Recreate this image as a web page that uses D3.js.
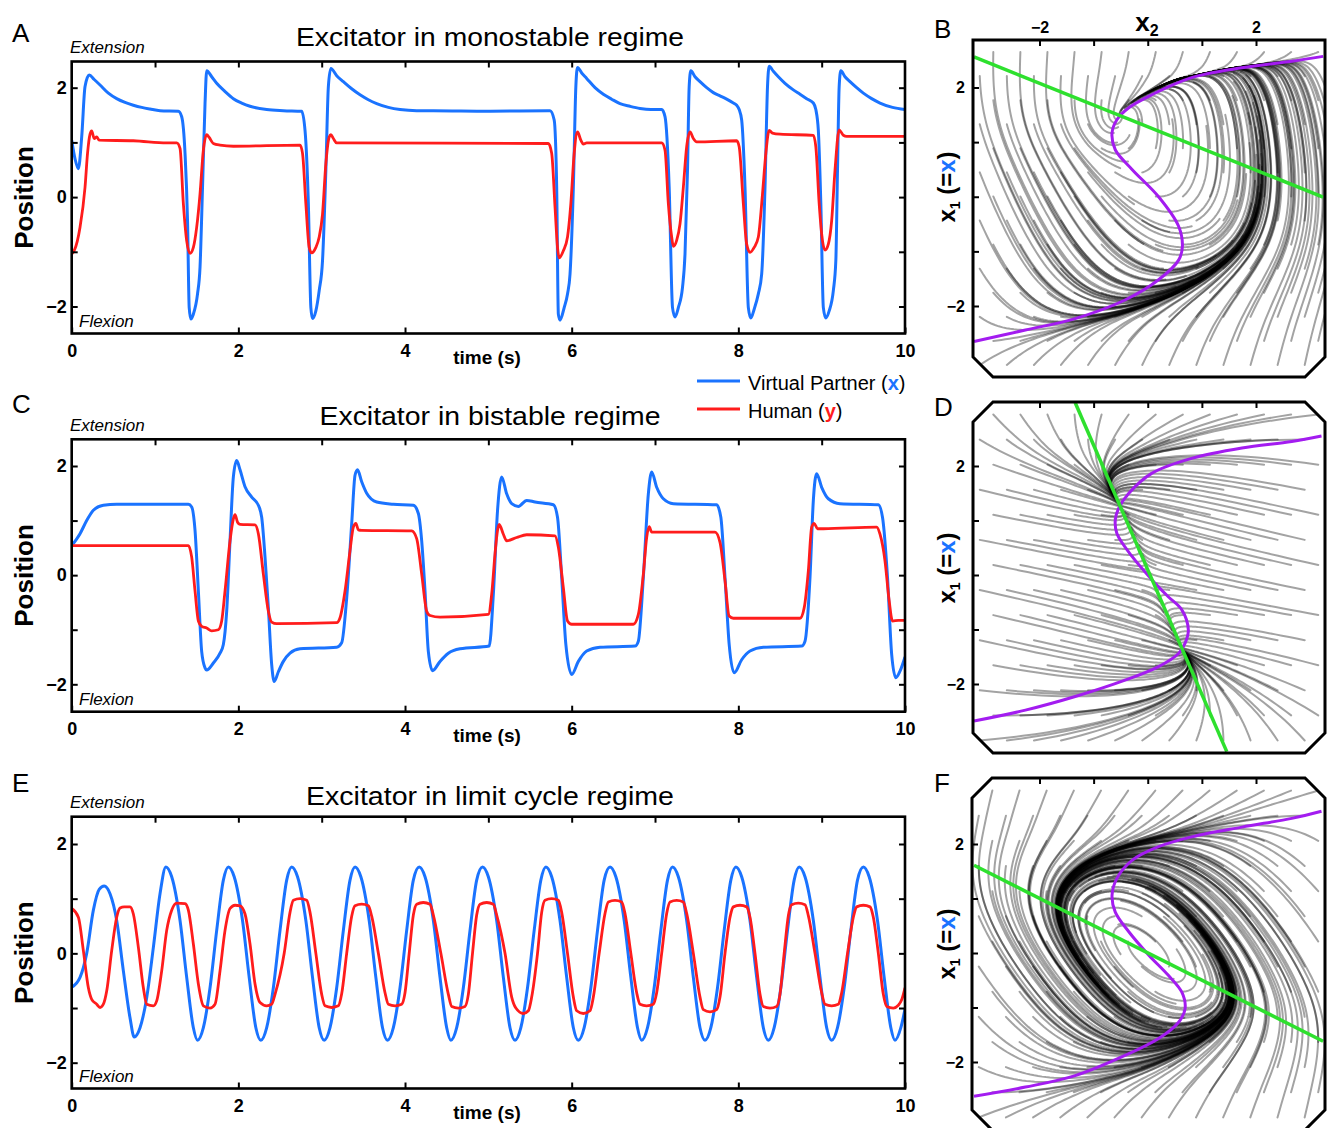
<!DOCTYPE html>
<html><head><meta charset="utf-8">
<script src="https://cdn.jsdelivr.net/npm/d3@7"></script>
<style>
body{margin:0;background:#fff}
svg text{font-family:"Liberation Sans",Arial,Helvetica,sans-serif}
</style>
</head><body>
<svg id="c" width="1328" height="1128" xmlns="http://www.w3.org/2000/svg"></svg>
<script>
// ---------------- DATA ----------------
const timeTicksLabeled = [0,2,4,6,8,10];
const timeTicksTop = [1,2,3,4,5,6,7,8,9];
const posTicks = [-2,-1,0,1,2];
const posLabels = [-2,0,2];
const legendLabels = ["Virtual Partner (", "Human ("];
const titles = ["Excitator in monostable regime","Excitator in bistable regime","Excitator in limit cycle regime"];

// Panel A : [time (s), position]
const A_blue = [[0,1.04],[0.04,0.7],[0.08,0.52],[0.12,1.1],[0.16,2.02],[0.21,2.23],[0.27,2.15],[0.34,2.05],[0.44,1.9],[0.54,1.8],[0.64,1.73],[0.74,1.68],[0.84,1.64],[0.94,1.61],[1.06,1.58],[1.28,1.57],[1.32,1.47],[1.36,0.8],[1.39,-0.43],[1.41,-2.02],[1.43,-2.23],[1.46,-2.14],[1.51,-1.77],[1.54,-1.28],[1.57,0.18],[1.6,1.71],[1.62,2.31],[1.68,2.2],[1.74,2.08],[1.84,1.93],[1.94,1.8],[2.04,1.72],[2.14,1.66],[2.34,1.6],[2.54,1.58],[2.76,1.57],[2.8,1.22],[2.84,-0.12],[2.87,-2.02],[2.89,-2.22],[2.93,-2.08],[2.97,-1.71],[3.01,-1.16],[3.05,0.49],[3.08,2.02],[3.11,2.35],[3.18,2.22],[3.26,2.11],[3.36,1.98],[3.46,1.87],[3.56,1.78],[3.66,1.71],[3.8,1.64],[3.94,1.6],[4.14,1.58],[4.34,1.58],[5.0,1.57],[5.74,1.58],[5.79,1.41],[5.82,0.18],[5.84,-2.14],[5.86,-2.25],[5.91,-2.02],[5.95,-1.77],[5.98,-1.41],[6.02,0.18],[6.05,2.02],[6.07,2.37],[6.12,2.27],[6.18,2.17],[6.28,2.0],[6.38,1.88],[6.48,1.79],[6.58,1.71],[6.7,1.66],[6.82,1.62],[6.95,1.6],[7.08,1.6],[7.12,1.47],[7.17,0.18],[7.21,-2.02],[7.24,-2.19],[7.28,-2.02],[7.33,-1.65],[7.36,-1.04],[7.39,0.49],[7.41,2.02],[7.43,2.31],[7.48,2.2],[7.54,2.11],[7.62,2.0],[7.7,1.91],[7.78,1.85],[7.86,1.79],[7.94,1.72],[7.98,1.68],[8.01,1.6],[8.04,1.41],[8.08,0.18],[8.12,-2.02],[8.15,-2.21],[8.19,-2.05],[8.24,-1.77],[8.28,-1.41],[8.32,0.18],[8.35,2.02],[8.37,2.39],[8.42,2.3],[8.48,2.2],[8.56,2.08],[8.66,1.96],[8.74,1.88],[8.82,1.8],[8.9,1.72],[8.93,1.6],[8.96,1.22],[8.99,-0.12],[9.02,-2.02],[9.05,-2.21],[9.09,-2.08],[9.14,-1.71],[9.17,-1.16],[9.19,0.49],[9.21,2.02],[9.23,2.31],[9.28,2.2],[9.34,2.11],[9.42,2.0],[9.5,1.9],[9.6,1.8],[9.7,1.72],[9.85,1.64],[10,1.6]];
const A_red = [[0,-1.04],[0.03,-0.98],[0.1,-0.55],[0.16,0.18],[0.19,0.8],[0.22,1.15],[0.24,1.21],[0.27,1.07],[0.3,1.1],[0.33,1.04],[0.74,1.03],[1.14,0.99],[1.26,0.99],[1.3,0.89],[1.34,-0.12],[1.38,-0.8],[1.42,-1.03],[1.46,-0.92],[1.5,-0.55],[1.54,0.06],[1.58,0.86],[1.62,1.14],[1.65,1.09],[1.7,0.98],[1.78,0.95],[1.94,0.93],[2.74,0.95],[2.77,0.8],[2.81,-0.12],[2.85,-0.92],[2.88,-1.02],[2.93,-0.92],[2.97,-0.73],[3.01,-0.31],[3.05,0.61],[3.09,1.1],[3.11,1.14],[3.14,1.07],[3.18,0.99],[5.72,0.98],[5.76,0.8],[5.8,-0.18],[5.83,-0.92],[5.85,-1.11],[5.9,-0.98],[5.95,-0.73],[5.99,-0.12],[6.03,0.8],[6.07,1.19],[6.11,1.04],[6.14,0.97],[6.18,0.99],[7.08,0.99],[7.12,0.86],[7.16,-0.12],[7.2,-0.73],[7.22,-0.9],[7.26,-0.79],[7.3,-0.49],[7.34,0.18],[7.38,0.92],[7.42,1.19],[7.46,1.07],[7.5,1.01],[7.98,1.03],[8.01,0.92],[8.06,-0.12],[8.1,-0.86],[8.14,-1.01],[8.19,-0.92],[8.24,-0.73],[8.29,0.06],[8.33,0.8],[8.37,1.22],[8.41,1.17],[8.5,1.15],[8.9,1.13],[8.93,0.92],[8.97,-0.12],[9.01,-0.8],[9.04,-0.97],[9.08,-0.86],[9.12,-0.43],[9.16,0.49],[9.21,1.23],[9.26,1.13],[9.3,1.11],[10,1.11]];

// Panel C
const C_blue = [[0,0.54],[0.1,0.76],[0.18,1.0],[0.26,1.19],[0.38,1.28],[0.54,1.3],[1.4,1.3],[1.44,1.25],[1.48,0.82],[1.52,-0.29],[1.56,-1.4],[1.6,-1.7],[1.62,-1.74],[1.7,-1.61],[1.78,-1.43],[1.82,-1.27],[1.86,-0.66],[1.9,0.63],[1.94,1.8],[1.98,2.1],[2.02,1.93],[2.08,1.62],[2.16,1.43],[2.24,1.28],[2.28,1.06],[2.32,0.33],[2.36,-0.6],[2.4,-1.64],[2.43,-1.95],[2.48,-1.77],[2.54,-1.58],[2.62,-1.43],[2.74,-1.35],[3.18,-1.32],[3.24,-1.24],[3.3,-0.42],[3.36,0.94],[3.4,1.83],[3.43,1.93],[3.48,1.71],[3.54,1.5],[3.66,1.34],[3.86,1.3],[4.1,1.28],[4.16,1.13],[4.2,0.63],[4.24,-0.29],[4.28,-1.4],[4.33,-1.75],[4.42,-1.58],[4.52,-1.43],[4.66,-1.35],[5.01,-1.3],[5.06,-0.35],[5.11,1.18],[5.16,1.8],[5.22,1.49],[5.28,1.31],[5.36,1.26],[5.46,1.37],[5.56,1.34],[5.78,1.29],[5.83,1.06],[5.88,-0.04],[5.93,-1.27],[6.0,-1.82],[6.08,-1.58],[6.18,-1.39],[6.34,-1.32],[6.76,-1.3],[6.8,-1.21],[6.86,-0.04],[6.92,1.49],[6.96,1.89],[7.02,1.61],[7.1,1.4],[7.22,1.31],[7.74,1.29],[7.79,1.06],[7.84,-0.04],[7.89,-1.27],[7.95,-1.79],[8.04,-1.55],[8.14,-1.39],[8.3,-1.32],[8.76,-1.3],[8.8,-1.21],[8.86,-0.04],[8.9,1.37],[8.94,1.86],[9.0,1.61],[9.08,1.4],[9.22,1.31],[9.68,1.29],[9.73,1.06],[9.79,-0.04],[9.84,-1.45],[9.89,-1.88],[9.94,-1.76],[10,-1.5]];
const C_red = [[0,0.54],[1.4,0.54],[1.44,0.33],[1.48,-0.29],[1.52,-0.84],[1.56,-0.94],[1.62,-0.97],[1.68,-1.02],[1.76,-1.0],[1.8,-0.84],[1.84,-0.29],[1.9,0.63],[1.94,1.03],[1.96,1.11],[1.99,0.97],[2.02,0.93],[2.2,0.92],[2.24,0.76],[2.3,0.02],[2.36,-0.66],[2.4,-0.86],[2.46,-0.89],[3.18,-0.87],[3.22,-0.78],[3.28,-0.29],[3.34,0.45],[3.38,0.88],[3.41,0.95],[3.44,0.83],[3.48,0.82],[4.08,0.81],[4.14,0.67],[4.2,0.02],[4.26,-0.66],[4.3,-0.74],[4.42,-0.77],[5.0,-0.72],[5.04,-0.35],[5.08,0.39],[5.11,0.82],[5.13,0.93],[5.18,0.75],[5.22,0.63],[5.34,0.69],[5.46,0.74],[5.8,0.72],[5.84,0.51],[5.9,-0.23],[5.95,-0.84],[6.0,-0.9],[6.74,-0.9],[6.8,-0.72],[6.86,0.02],[6.9,0.69],[6.93,0.89],[6.96,0.79],[7.0,0.79],[7.72,0.79],[7.78,0.6],[7.84,-0.1],[7.89,-0.75],[7.94,-0.79],[8.74,-0.79],[8.79,-0.6],[8.84,0.08],[8.88,0.88],[8.91,0.95],[8.95,0.85],[9.02,0.85],[9.66,0.88],[9.7,0.75],[9.76,0.26],[9.81,-0.47],[9.85,-0.84],[9.92,-0.83],[10,-0.83]];

// Panel E
const E_blue = [[0,-0.62],[0.1,-0.44],[0.18,0.0],[0.26,0.79],[0.33,1.17],[0.39,1.23],[0.46,1.09],[0.54,0.6],[0.62,-0.32],[0.7,-1.18],[0.75,-1.53],
[0.82,-1.36],[0.9,-0.81],[0.98,0.11],[1.06,1.09],[1.13,1.58],[1.2,1.4],[1.3,0.6],[1.38,-0.44],[1.46,-1.36],[1.51,-1.59],
[1.58,-1.36],[1.66,-0.63],[1.74,0.42],[1.82,1.34],[1.88,1.58],[1.95,1.4],[2.05,0.6],[2.13,-0.44],[2.21,-1.36],[2.27,-1.59],
[2.34,-1.36],[2.42,-0.63],[2.5,0.42],[2.58,1.34],[2.64,1.58],[2.71,1.4],[2.81,0.6],[2.89,-0.44],[2.97,-1.36],[3.03,-1.59],
[3.1,-1.36],[3.18,-0.63],[3.26,0.42],[3.34,1.34],[3.4,1.58],[3.47,1.4],[3.57,0.6],[3.65,-0.44],[3.73,-1.36],[3.79,-1.59],
[3.86,-1.36],[3.94,-0.63],[4.02,0.42],[4.1,1.34],[4.17,1.58],[4.24,1.4],[4.34,0.6],[4.42,-0.44],[4.5,-1.36],[4.55,-1.59],
[4.62,-1.36],[4.7,-0.63],[4.78,0.42],[4.86,1.34],[4.93,1.58],[5.0,1.4],[5.1,0.6],[5.18,-0.44],[5.26,-1.36],[5.32,-1.59],
[5.39,-1.36],[5.47,-0.63],[5.55,0.42],[5.63,1.34],[5.69,1.58],[5.76,1.4],[5.86,0.6],[5.94,-0.44],[6.02,-1.36],[6.08,-1.59],
[6.15,-1.36],[6.23,-0.63],[6.31,0.42],[6.39,1.34],[6.46,1.58],[6.53,1.4],[6.63,0.6],[6.71,-0.44],[6.79,-1.36],[6.84,-1.59],
[6.91,-1.36],[6.99,-0.63],[7.07,0.42],[7.15,1.34],[7.21,1.58],[7.28,1.4],[7.38,0.6],[7.46,-0.44],[7.54,-1.36],[7.6,-1.59],
[7.67,-1.36],[7.75,-0.63],[7.83,0.42],[7.91,1.34],[7.97,1.58],[8.04,1.4],[8.14,0.6],[8.22,-0.44],[8.3,-1.36],[8.36,-1.59],
[8.43,-1.36],[8.51,-0.63],[8.59,0.42],[8.67,1.34],[8.73,1.58],[8.8,1.4],[8.9,0.6],[8.98,-0.44],[9.06,-1.36],[9.12,-1.59],
[9.19,-1.36],[9.27,-0.63],[9.35,0.42],[9.43,1.34],[9.5,1.58],[9.57,1.4],[9.67,0.6],[9.75,-0.44],[9.83,-1.36],[9.88,-1.59],
[9.95,-1.36],[10,-1.02]];
const E_red = [[0,0.82],[0.08,0.66],[0.14,0.05],[0.2,-0.63],[0.24,-0.84],[0.3,-0.93],[0.34,-0.99],[0.38,-0.93],[0.42,-0.69],[0.48,0.05],[0.54,0.66],[0.58,0.83],[0.63,0.85],[0.7,0.85],[0.74,0.72],[0.8,0.11],[0.86,-0.63],[0.9,-0.93],[0.98,-0.96],[1.02,-0.87],[1.08,-0.32],[1.14,0.42],[1.2,0.79],[1.26,0.92],[1.36,0.91],[1.4,0.79],[1.46,0.17],[1.52,-0.56],[1.58,-0.96],[1.66,-1.0],[1.72,-0.93],[1.78,-0.32],[1.84,0.42],[1.9,0.82],[1.96,0.88],[2.02,0.87],[2.08,0.72],[2.14,0.17],[2.2,-0.56],[2.26,-0.9],[2.34,-0.96],[2.4,-0.93],
[2.44,-0.75],[2.55,0],[2.62,0.75],[2.66,0.97],[2.74,1.0],[2.82,0.97],[2.86,0.75],[2.93,0],[3.0,-0.75],[3.04,-0.96],[3.12,-0.99],[3.2,-0.96],[3.24,-0.74],[3.3,0],[3.36,0.68],[3.4,0.87],[3.48,0.9],[3.56,0.87],[3.6,0.68],[3.68,0],[3.76,-0.72],[3.8,-0.93],[3.88,-0.96],[3.96,-0.93],[4.0,-0.72],[4.05,0],[4.1,0.7],[4.14,0.9],[4.22,0.93],[4.3,0.9],[4.34,0.7],[4.43,0],[4.52,-0.75],[4.56,-0.97],[4.64,-1.0],[4.72,-0.97],[4.76,-0.75],[4.81,0],[4.86,0.7],[4.9,0.9],[4.98,0.93],[5.06,0.9],[5.1,0.7],[5.2,0],[5.28,-0.8],[5.33,-1.0],[5.42,-1.1],[5.48,-1.05],[5.52,-0.8],[5.59,0],[5.64,0.75],[5.68,0.97],[5.76,1.0],[5.84,0.97],[5.88,0.75],[5.95,0],[6.02,-0.8],[6.06,-1.05],[6.14,-1.1],[6.22,-1.05],[6.26,-0.8],[6.33,0],[6.4,0.73],[6.44,0.94],[6.52,0.97],[6.6,0.94],[6.64,0.73],[6.71,0],[6.78,-0.72],[6.82,-0.93],[6.9,-0.96],[6.98,-0.93],[7.02,-0.72],[7.08,0],[7.14,0.73],[7.18,0.94],[7.26,0.97],[7.34,0.94],[7.38,0.73],[7.46,0],[7.54,-0.8],[7.58,-1.03],[7.66,-1.07],[7.74,-1.03],[7.78,-0.8],[7.84,0],[7.9,0.66],[7.94,0.85],[8.02,0.88],[8.1,0.85],[8.14,0.66],[8.2,0],[8.26,-0.75],[8.3,-0.97],[8.38,-1.0],[8.46,-0.97],[8.5,-0.75],[8.55,0],[8.6,0.69],[8.64,0.89],[8.72,0.92],[8.8,0.89],[8.84,0.69],[8.92,0],[9.0,-0.72],[9.04,-0.93],[9.12,-0.96],[9.2,-0.93],[9.24,-0.72],[9.31,0],[9.38,0.66],[9.42,0.85],[9.5,0.88],[9.58,0.85],[9.62,0.66],[9.68,0],[9.74,-0.75],[9.78,-0.97],[9.86,-1.0],[9.92,-0.95],[9.96,-0.85],[10,-0.63]];

// Phase planes : [x2, x1]
const phaseTicks = [-2,-1,0,1,2];
const phaseLabels = [-2,2];
const B_purple = [[-3.21,-2.65],[-2.26,-2.44],[-1.34,-2.23],[-0.42,-1.89],[0.2,-1.52],[0.57,-1.16],[0.64,-0.91],[0.57,-0.54],[0.2,0.0],[-0.29,0.5],[-0.6,0.86],[-0.66,1.17],[-0.57,1.41],[-0.35,1.63],[0.08,1.87],[0.81,2.18],[1.74,2.36],[2.66,2.48],[3.24,2.57]];
const B_green = [[-3.21,2.56],[3.24,-0.006]];
const D_purple = [[-3.21,-2.68],[-2.26,-2.48],[-1.34,-2.23],[-0.42,-1.93],[0.2,-1.68],[0.57,-1.44],[0.69,-1.25],[0.75,-1.01],[0.63,-0.64],[0.38,-0.4],[0.08,-0.09],[-0.29,0.34],[-0.57,0.76],[-0.6,1.01],[-0.54,1.22],[-0.35,1.5],[0.08,1.87],[0.81,2.14],[1.74,2.33],[2.66,2.45],[3.21,2.55]];
const D_green = [[-1.34,3.16],[1.46,-3.24]];
const F_purple = [[-3.21,-2.63],[-2.26,-2.46],[-1.34,-2.25],[-0.42,-1.88],[0.2,-1.57],[0.57,-1.27],[0.69,-1.02],[0.63,-0.72],[0.38,-0.41],[0.02,-0.04],[-0.35,0.39],[-0.6,0.75],[-0.66,1.06],[-0.57,1.37],[-0.29,1.7],[0.2,1.95],[0.81,2.13],[1.74,2.31],[2.66,2.47],[3.21,2.6]];
const F_green = [[-3.21,1.61],[3.24,-1.62]];
// time constant of the excitator used to draw the flow of each phase plane, and flow-line duration
const phaseTau = [1.35, 0.7, 0.9];
const phaseDuration = [2.0, 1.6, 3.6];

// ---------------- DRAWING ----------------
const svg = d3.select('#c');
const defs = svg.append('defs');
const BLUE = '#1a73ff', RED = '#ff1c1c', PURPLE = '#a31cf0', GREEN = '#2ee02e';
const FONT = '"Liberation Sans",Arial,Helvetica,sans-serif';
const fmt = d => d < 0 ? '\u2212' + Math.abs(d) : String(d);

function styleAxis(g, size, bold){
  g.select('.domain').remove();
  g.selectAll('.tick line').attr('stroke','#000').attr('stroke-width',2);
  g.selectAll('.tick text').attr('font-size',size).attr('font-weight',bold?'bold':'normal')
    .attr('font-family',FONT).attr('fill','#000');
}

// ---- time series panels ----
const tx = d3.scaleLinear().domain([0,10]).range([71.7,905]);
const tsPanels = [
  {letter:'A', ly:42, title:titles[0], tY:46, tLen:388, yr:[306.5,87.7], fr:[61.5,333.5], blue:A_blue, red:A_red},
  {letter:'C', ly:413, title:titles[1], tY:425, tLen:341, yr:[684.3,466], fr:[439.3,711.7], blue:C_blue, red:C_red},
  {letter:'E', ly:792, title:titles[2], tY:805, tLen:368, yr:[1062.7,844], fr:[816.7,1088.5], blue:E_blue, red:E_red}
];
tsPanels.forEach((p,i)=>{
  const y = d3.scaleLinear().domain([-2,2]).range(p.yr);
  const g = svg.append('g');
  const cid = 'tsclip'+i;
  defs.append('clipPath').attr('id',cid).append('rect')
    .attr('x',tx(0)).attr('y',p.fr[0]).attr('width',tx(10)-tx(0)).attr('height',p.fr[1]-p.fr[0]);
  const line = d3.line().x(d=>tx(d[0])).y(d=>y(d[1])).curve(d3.curveMonotoneX);
  const lg = g.append('g').attr('clip-path',`url(#${cid})`);
  lg.append('path').attr('d',line(p.blue)).attr('fill','none').attr('stroke',BLUE).attr('stroke-width',3).attr('stroke-linejoin','round');
  lg.append('path').attr('d',line(p.red)).attr('fill','none').attr('stroke',RED).attr('stroke-width',2.8).attr('stroke-linejoin','round');
  // axes
  const aL = g.append('g').attr('transform',`translate(${tx(0)},0)`)
    .call(d3.axisLeft(y).tickValues(posTicks).tickSizeInner(-6).tickSizeOuter(0).tickPadding(5)
      .tickFormat(d=>posLabels.includes(d)?fmt(d):''));
  styleAxis(aL,18,true);
  const aR = g.append('g').attr('transform',`translate(${tx(10)},0)`)
    .call(d3.axisRight(y).tickValues(posTicks).tickSizeInner(-6).tickSizeOuter(0).tickFormat(''));
  styleAxis(aR,18,true);
  const aT = g.append('g').attr('transform',`translate(0,${p.fr[0]})`)
    .call(d3.axisTop(tx).tickValues(timeTicksTop).tickSizeInner(-6).tickSizeOuter(0).tickFormat(''));
  styleAxis(aT,18,true);
  const aB = g.append('g').attr('transform',`translate(0,${p.fr[1]})`)
    .call(d3.axisBottom(tx).tickValues(timeTicksLabeled).tickSizeInner(-6).tickSizeOuter(0).tickPadding(11).tickFormat(d=>String(d)));
  styleAxis(aB,18,true);
  // frame
  g.append('rect').attr('x',tx(0)).attr('y',p.fr[0]).attr('width',tx(10)-tx(0)).attr('height',p.fr[1]-p.fr[0])
    .attr('fill','none').attr('stroke','#000').attr('stroke-width',2.6);
  // texts
  g.append('text').attr('x',12).attr('y',p.ly).attr('font-size',26).text(p.letter);
  g.append('text').attr('x',490).attr('y',p.tY).attr('text-anchor','middle').attr('font-size',26)
    .attr('textLength',p.tLen).attr('lengthAdjust','spacingAndGlyphs').text(p.title);
  g.append('text').attr('x',70).attr('y',p.fr[0]-8.5).attr('font-size',17).attr('font-style','italic').text('Extension');
  g.append('text').attr('x',79).attr('y',p.fr[1]-6.5).attr('font-size',17).attr('font-style','italic').text('Flexion');
  const cy = (p.fr[0]+p.fr[1])/2;
  g.append('text').attr('transform',`translate(33,${cy}) rotate(-90)`).attr('text-anchor','middle')
    .attr('font-size',26).attr('font-weight','bold').text('Position');
  g.append('text').attr('x',487).attr('y',p.fr[1]+30.5).attr('text-anchor','middle').attr('font-size',19)
    .attr('font-weight','bold').text('time (s)');
});

// legend
const leg = svg.append('g');
[[BLUE,381,390,legendLabels[0],'x'],[RED,409,417.5,legendLabels[1],'y']].forEach(r=>{
  leg.append('line').attr('x1',697).attr('x2',740).attr('y1',r[1]).attr('y2',r[1]).attr('stroke',r[0]).attr('stroke-width',3);
  const t = leg.append('text').attr('x',748).attr('y',r[2]).attr('font-size',20);
  t.append('tspan').text(r[3]);
  t.append('tspan').attr('fill',r[0]).attr('font-weight','bold').text(r[4]);
  t.append('tspan').text(')');
});

// ---- phase plane panels ----
const px = d3.scaleLinear().domain([-2,2]).range([1039.5,1256]);
const phPanels = [
  {letter:'B', ly:38, yr:[306,87.5], box:[973,1325,40,377], cut:[0,0,20,20], purple:B_purple, green:B_green, tau:phaseTau[0], dur:phaseDuration[0], labels:true, lab:187},
  {letter:'D', ly:416, yr:[684,466], box:[973,1325,402,753], cut:[20,20,20,20], purple:D_purple, green:D_green, tau:phaseTau[1], dur:phaseDuration[1], labels:false, lab:568},
  {letter:'F', ly:792, yr:[1062,844], box:[972,1325,778,1130], cut:[20,20,20,20], purple:F_purple, green:F_green, tau:phaseTau[2], dur:phaseDuration[2], labels:false, lab:944}
];
phPanels.forEach((p,i)=>{
  const py = d3.scaleLinear().domain([-2,2]).range(p.yr);
  const [x0,x1,y0,y1] = p.box, [ctl,ctr,cbr,cbl] = p.cut;
  const oct = [[x0+ctl,y0],[x1-ctr,y0],[x1,y0+ctr],[x1,y1-cbr],[x1-cbr,y1],[x0+cbl,y1],[x0,y1-cbl],[x0,y0+ctl]];
  const octPath = 'M'+oct.map(d=>d.join(',')).join('L')+'Z';
  const cid = 'phclip'+i;
  defs.append('clipPath').attr('id',cid).append('path').attr('d',octPath);
  const g = svg.append('g');
  const inner = g.append('g').attr('clip-path',`url(#${cid})`);

  // nullclines as functions (from read points)
  const sortedP = p.purple.slice().sort((a,b)=>a[1]-b[1]);
  const fN = d3.scaleLinear().domain(sortedP.map(d=>d[1])).range(sortedP.map(d=>d[0])); // x1 -> x2 on cubic nullcline
  const gN = d3.scaleLinear().domain(p.green.map(d=>d[0])).range(p.green.map(d=>d[1])); // x2 -> x1 on linear nullcline
  const tau = p.tau;
  const F = (a,b)=>[-(b - gN(a))/tau, tau*(a - fN(b))]; // [dx2, dx1]
  const X2min = px.invert(x0), X2max = px.invert(x1), X1min = py.invert(y1), X1max = py.invert(y0);
  const lines = [];
  const nx = 13, ny = 14, dt = 0.02, steps = Math.round(p.dur/dt);
  for (let j=0;j<ny;j++) for (let k=0;k<nx;k++){
    let a = X2min + (k + 0.25 + (j%2)*0.5)/nx*(X2max-X2min);
    let b = X1min + (j + 0.5)/ny*(X1max-X1min);
    const pts = [[a,b]];
    for (let s=0;s<steps;s++){
      const k1=F(a,b), k2=F(a+dt/2*k1[0], b+dt/2*k1[1]), k3=F(a+dt/2*k2[0], b+dt/2*k2[1]), k4=F(a+dt*k3[0], b+dt*k3[1]);
      a += dt/6*(k1[0]+2*k2[0]+2*k3[0]+k4[0]);
      b += dt/6*(k1[1]+2*k2[1]+2*k3[1]+k4[1]);
      if (a<X2min-0.5||a>X2max+0.5||b<X1min-0.5||b>X1max+0.5||!isFinite(a)||!isFinite(b)) break;
      pts.push([a,b]);
    }
    lines.push(pts);
  }
  const pl = d3.line().x(d=>px(d[0])).y(d=>py(d[1]));
  inner.append('g').selectAll('path').data(lines).join('path').attr('d',pl)
    .attr('fill','none').attr('stroke','#000').attr('stroke-opacity',0.36).attr('stroke-width',2).attr('stroke-linecap','round');
  inner.append('path').attr('d',d3.line().x(d=>px(d[0])).y(d=>py(d[1])).curve(d3.curveCatmullRom.alpha(0.5))(p.purple))
    .attr('fill','none').attr('stroke',PURPLE).attr('stroke-width',3);
  inner.append('path').attr('d',pl(p.green)).attr('fill','none').attr('stroke',GREEN).attr('stroke-width',3.5);

  // axes
  const aT = g.append('g').attr('transform',`translate(0,${y0})`)
    .call(d3.axisTop(px).tickValues(phaseTicks).tickSizeInner(-6).tickSizeOuter(0).tickPadding(7)
      .tickFormat(d=>p.labels && phaseLabels.includes(d)?fmt(d):''));
  styleAxis(aT,16,true);
  const aL = g.append('g').attr('transform',`translate(${x0},0)`)
    .call(d3.axisLeft(py).tickValues(phaseTicks).tickSizeInner(-6).tickSizeOuter(0).tickPadding(8)
      .tickFormat(d=>phaseLabels.includes(d)?fmt(d):''));
  styleAxis(aL,16,true);
  g.append('path').attr('d',octPath).attr('fill','none').attr('stroke','#000').attr('stroke-width',3);

  g.append('text').attr('x',934).attr('y',p.ly).attr('font-size',26).text(p.letter);
  const t = g.append('text').attr('transform',`translate(955,${p.lab}) rotate(-90)`).attr('text-anchor','middle')
    .attr('font-size',24).attr('font-weight','bold');
  t.append('tspan').text('x');
  t.append('tspan').attr('font-size',14).attr('dy',5).text('1');
  t.append('tspan').attr('dy',-5).text(' (=');
  t.append('tspan').attr('fill',BLUE).text('x');
  t.append('tspan').text(')');
  if (p.labels){
    const xt = g.append('text').attr('x',1147).attr('y',31).attr('text-anchor','middle').attr('font-size',26).attr('font-weight','bold');
    xt.append('tspan').text('x');
    xt.append('tspan').attr('font-size',16).attr('dy',5).text('2');
  }
});
</script>
</body></html>
